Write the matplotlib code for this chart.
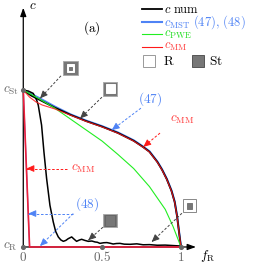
import numpy as np
import matplotlib
matplotlib.use("Agg")
import matplotlib.pyplot as plt
from matplotlib.patches import Rectangle

plt.rcParams["mathtext.fontset"] = "cm"
plt.rcParams["font.family"] = "serif"
plt.rcParams["font.serif"] = ["DejaVu Serif"]

# --- data (f_R, normalised c: 0 = c_R, 1 = c_St) ---
f_mst = [0, 0.05, 0.1, 0.2, 0.3, 0.4, 0.5, 0.6, 0.7, 0.76, 0.8, 0.85, 0.88, 0.91, 0.94, 0.96, 0.975, 0.99, 1.0]
c_mst = [1, 0.975, 0.95, 0.895, 0.845, 0.805, 0.77, 0.73, 0.68, 0.64, 0.61, 0.545, 0.495, 0.435, 0.36, 0.29, 0.2, 0.08, 0]
f_mm = [0, 0.04, 0.08, 0.12, 0.2, 0.3, 0.4, 0.5, 0.6, 0.7, 0.76, 0.8, 0.85, 0.88, 0.91, 0.94, 0.96, 0.975, 0.99, 1.0]
c_mm = [1, 0.955, 0.925, 0.905, 0.88, 0.84, 0.8, 0.765, 0.725, 0.675, 0.635, 0.605, 0.54, 0.49, 0.43, 0.355, 0.285, 0.195, 0.075, 0]
f_mm_st = [0, 0.04, 1.0]
c_mm_st = [1, 0, 0]
f_pwe = [0, 0.1, 0.2, 0.3, 0.4, 0.5, 0.6, 0.7, 0.8, 0.9, 0.95, 1.0]
c_pwe = [1, 0.945, 0.885, 0.815, 0.745, 0.675, 0.59, 0.5, 0.385, 0.24, 0.13, 0]
f_num_r = [0, 0.05, 0.1, 0.2, 0.3, 0.4, 0.5, 0.6, 0.7, 0.76, 0.8, 0.85, 0.88, 0.91, 0.94, 0.96, 0.975, 0.99, 1.0]
c_num_r = [1, 0.965, 0.94, 0.888, 0.842, 0.802, 0.767, 0.727, 0.677, 0.637, 0.607, 0.542, 0.492, 0.432, 0.357, 0.287, 0.197, 0.077, 0]
f_num_st = [0, 0.032, 0.063, 0.085, 0.095, 0.116, 0.131, 0.148, 0.169, 0.19, 0.205, 0.222, 0.238, 0.254, 0.27, 0.285,
            0.307, 0.322, 0.338, 0.355, 0.37, 0.39, 0.412, 0.435, 0.455, 0.47, 0.486, 0.51, 0.53, 0.55, 0.57, 0.59,
            0.613, 0.64, 0.677, 0.72, 0.76, 0.8, 0.85, 0.9, 0.95, 1.0]
c_num_st = [1, 0.994, 0.979, 0.936, 0.904, 0.777, 0.606, 0.436, 0.266, 0.16, 0.1, 0.064, 0.045, 0.036, 0.042, 0.053,
            0.064, 0.05, 0.036, 0.044, 0.049, 0.042, 0.036, 0.038, 0.032, 0.03, 0.023, 0.027, 0.028, 0.024, 0.019, 0.022,
            0.023, 0.018, 0.017, 0.02, 0.014, 0.015, 0.011, 0.012, 0.009, 0.006]
tick_pos = [0, 0.5, 1]
tick_labels = ["0", "0.5", "1"]

BLUE = "#4f83f5"
RED = "#ff1a1a"
RED_TXT = "#ff3d3d"
GREEN = "#22ee22"
GRAY = "#666666"
DASH = (0, (2.6, 1.8))
FS = 9.5


def dashed_arrow(ax, start, tip, color):
    ax.plot([start[0], tip[0]], [start[1], tip[1]], color=color, lw=0.7, ls=DASH, zorder=6)
    d = np.array(tip) - np.array(start)
    back = np.array(tip) - 0.035 * d / np.hypot(*d)
    ax.annotate("", xy=tip, xytext=back,
                arrowprops=dict(arrowstyle="-|>,head_length=0.45,head_width=0.2", color=color, lw=0.7,
                                shrinkA=0, shrinkB=0), zorder=7)


def icon(ax, center, size, layers):
    # layers: list of (fraction of size, facecolor, edgecolor)
    for frac, fc, ec in layers:
        s = size * frac
        ax.add_patch(Rectangle((center[0] - s / 2, center[1] - s / 2), s, s, facecolor=fc,
                               edgecolor=ec, lw=0.7, zorder=8))


fig = plt.figure(figsize=(2.59, 2.64), dpi=100)
ax = fig.add_axes([0, 0, 1, 1])
ax.set_xlim(-0.1476, 1.4947)
ax.set_ylim(-0.1085, 1.5744)
ax.axis("off")

# axes with arrows
ax.annotate("", xy=(0, 1.525), xytext=(0, 0),
            arrowprops=dict(arrowstyle="-|>,head_length=0.5,head_width=0.18", color="black", lw=0.9,
                            shrinkA=0, shrinkB=0))
ax.annotate("", xy=(1.095, 0), xytext=(0, 0),
            arrowprops=dict(arrowstyle="-|>,head_length=0.5,head_width=0.18", color="black", lw=0.9,
                            shrinkA=0, shrinkB=0))

# curves
ax.plot(f_mst, c_mst, color=BLUE, lw=1.5, zorder=2)
ax.plot(f_mm_st, c_mm_st, color=BLUE, lw=0.9, zorder=2)
ax.plot(f_num_r, c_num_r, color="black", lw=1.3, zorder=3)
ax.plot(f_pwe, c_pwe, color=GREEN, lw=0.8, zorder=4)
ax.plot(f_num_st, c_num_st, color="black", lw=1.1, zorder=3)
ax.plot(f_mm, c_mm, color=RED, lw=0.8, zorder=5, alpha=0.85)
ax.plot(f_mm_st, c_mm_st, color="#f0203a", lw=1.2, zorder=5)

# tick dots and labels
ax.scatter([0, 0.5, 1, 0], [0, 0, 0, 1], s=7, color=GRAY, zorder=9)
for xv, lab in zip(tick_pos, tick_labels):
    ax.text(xv, -0.088, "$" + lab + "$", ha="center", va="baseline", fontsize=FS, color=GRAY)
ax.text(-0.025, 1.0, r"$c_{\mathrm{St}}$", ha="right", va="center", fontsize=FS, color=GRAY)
ax.text(-0.035, 0.0, r"$c_{\mathrm{R}}$", ha="right", va="center", fontsize=FS, color=GRAY)
ax.text(0.035, 1.54, r"$c$", ha="left", va="center", fontsize=FS)
ax.text(1.12, -0.06, r"$f_{\mathrm{R}}$", ha="left", va="center", fontsize=FS)
ax.text(0.434, 1.396, r"$\mathrm{(a)}$", ha="center", va="center", fontsize=FS)

# legend (drawn by hand)
leg_rows = [(r"$c\ \mathrm{num}$", "black", "black", 1.3),
            (r"$c_{\mathrm{MST}}\ (47),\,(48)$", BLUE, BLUE, 1.5),
            (r"$c_{\mathrm{PWE}}$", GREEN, "#22dd22", 0.8),
            (r"$c_{\mathrm{MM}}$", RED, RED_TXT, 0.8)]
for i, (lab, lc, tc, lw) in enumerate(leg_rows):
    yy = 1.515 - 0.08 * i
    ax.plot([0.753, 0.879], [yy, yy], color=lc, lw=lw)
    ax.text(0.895, yy, lab, ha="left", va="center", fontsize=9, color=tc)
icon(ax, (0.797, 1.185), 0.076, [(1.0, "white", "#999999")])
ax.text(0.885, 1.185, r"$\mathrm{R}$", ha="left", va="center", fontsize=FS)
icon(ax, (1.111, 1.185), 0.076, [(1.0, "#777777", "#555555")])
ax.text(1.18, 1.185, r"$\mathrm{St}$", ha="left", va="center", fontsize=FS)

# microstructure icons
icon(ax, (0.30, 1.139), 0.09, [(1.0, "#777777", "#aaaaaa"), (0.55, "white", "white"), (0.25, "#777777", "#777777")])
icon(ax, (0.552, 1.008), 0.09, [(1.0, "#777777", "#aaaaaa"), (0.62, "white", "white")])
icon(ax, (0.55, 0.17), 0.085, [(1.0, "#777777", "#aaaaaa"), (0.8, "#777777", "#666666")])
icon(ax, (1.053, 0.263), 0.08, [(1.0, "white", "#888888"), (0.45, "#777777", "#777777")])

# annotation arrows
dashed_arrow(ax, (0.239, 1.091), (0.106, 0.947), "#444444")
dashed_arrow(ax, (0.499, 0.955), (0.36, 0.819), "#444444")
dashed_arrow(ax, (0.746, 0.885), (0.561, 0.745), BLUE)
dashed_arrow(ax, (0.867, 0.726), (0.761, 0.638), RED)
dashed_arrow(ax, (0.275, 0.50), (0.02, 0.50), RED)
dashed_arrow(ax, (0.317, 0.213), (0.032, 0.213), BLUE)
dashed_arrow(ax, (0.317, 0.213), (0.106, 0.006), BLUE)
dashed_arrow(ax, (0.505, 0.126), (0.412, 0.043), "#444444")
dashed_arrow(ax, (1.006, 0.215), (0.814, 0.032), "#444444")

ax.text(0.803, 0.943, r"$(47)$", ha="center", va="center", fontsize=FS, color=BLUE)
ax.text(0.402, 0.272, r"$(48)$", ha="center", va="center", fontsize=FS, color=BLUE)
ax.text(0.93, 0.81, r"$c_{\mathrm{MM}}$", ha="left", va="center", fontsize=FS, color=RED_TXT)
ax.text(0.30, 0.50, r"$c_{\mathrm{MM}}$", ha="left", va="center", fontsize=FS, color=RED_TXT)

fig.savefig("out.png", dpi=100)
